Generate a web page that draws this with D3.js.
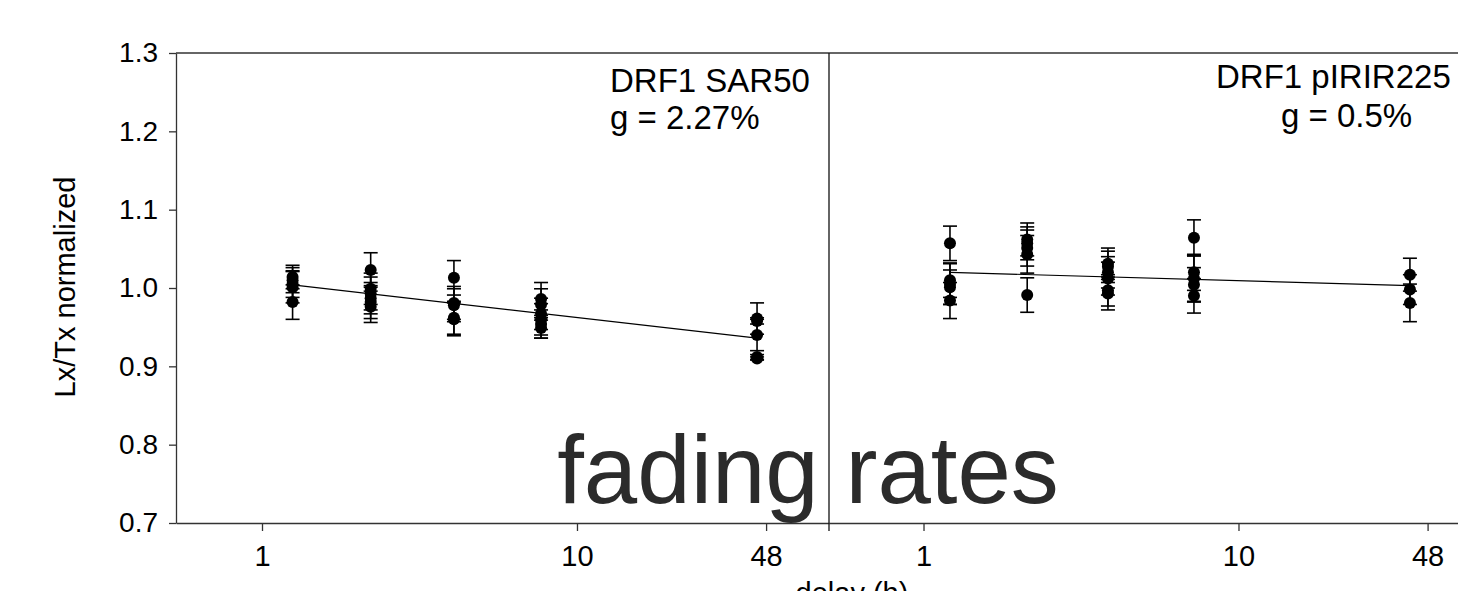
<!DOCTYPE html>
<html>
<head>
<meta charset="utf-8">
<script src="https://cdn.jsdelivr.net/npm/d3@7"></script>
<style>
  html, body { margin: 0; padding: 0; background: #fff; }
  svg { display: block; }
  text { font-family: "Liberation Sans", Arial, sans-serif; }
</style>
</head>
<body>
<svg id="chart" width="1458" height="591"></svg>
<script>
// ---------------- data ----------------
const panelTitles = ["DRF1 SAR50", "DRF1 pIRIR225"];
const panelG = ["g = 2.27%", "g = 0.5%"];
const yTickValues = [0.7, 0.8, 0.9, 1.0, 1.1, 1.2, 1.3];
const xTickValues = [1, 10, 48];
const xTickLabels = ["1", "10", "48"];
const yLabel = "Lx/Tx normalized";
const xLabel = "delay (h)";
const overlayText = "fading rates";

// DRF1 SAR50 (left panel): delay (h), normalized Lx/Tx, error
const sarTime  = [1.2, 1.2, 1.2, 1.2, 1.2,
                  2.02, 2.02, 2.02, 2.02, 2.02, 2.02,
                  3.75, 3.75, 3.75, 3.75, 3.75,
                  7.47, 7.47, 7.47, 7.47, 7.47, 7.47,
                  44.5, 44.5, 44.5, 44.5, 44.5];
const sarValue = [1.014, 1.010, 1.005, 1.001, 0.982,
                  1.023, 0.999, 0.993, 0.987, 0.982, 0.976,
                  1.013, 0.981, 0.978, 0.962, 0.960,
                  0.986, 0.979, 0.967, 0.960, 0.954, 0.949,
                  0.961, 0.958, 0.940, 0.912, 0.910];
const sarError = [0.015, 0.016, 0.017, 0.020, 0.022,
                  0.022, 0.020, 0.021, 0.020, 0.021, 0.020,
                  0.022, 0.021, 0.021, 0.021, 0.021,
                  0.021, 0.020, 0.020, 0.020, 0.018, 0.013,
                  0.020, 0.004, 0.020, 0.003, 0.002];
const sarFitTime = [1.2, 44.5];
const sarFitValue = [1.004, 0.936];

// DRF1 pIRIR225 (right panel)
const irTime  = [1.17, 1.17, 1.17, 1.17, 1.17,
                 1.95, 1.95, 1.95, 1.95, 1.95,
                 3.54, 3.54, 3.54, 3.54, 3.54, 3.54,
                 6.97, 6.97, 6.97, 6.97, 6.97,
                 41.4, 41.4, 41.4];
const irValue = [1.057, 1.010, 1.005, 1.001, 0.984,
                 1.062, 1.057, 1.051, 1.043, 0.991,
                 1.031, 1.027, 1.020, 1.012, 0.997, 0.993,
                 1.064, 1.020, 1.012, 1.004, 0.990,
                 1.017, 0.998, 0.981];
const irError = [0.022, 0.022, 0.026, 0.022, 0.023,
                 0.021, 0.021, 0.023, 0.024, 0.022,
                 0.020, 0.020, 0.020, 0.021, 0.020, 0.021,
                 0.023, 0.023, 0.029, 0.022, 0.022,
                 0.021, 0.019, 0.024];
const irFitTime = [1.17, 41.4];
const irFitValue = [1.020, 1.003];

// ---------------- drawing ----------------
const svg = d3.select("#chart");
const axisColor = "#333";
const timeShift = -0.32;   // axis is log of (delay + shift)
const FONT = "'Liberation Sans', Arial, sans-serif";

const y = d3.scaleLinear().domain([0.7, 1.3]).range([523, 53]);
const xL = d3.scaleLog().domain([0.3293, 81.04]).range([176, 829]);
const xR = d3.scaleLog().domain([0.3065, 81.38]).range([829, 1491]);

// top border
svg.append("line")
  .attr("x1", xL.range()[0]).attr("x2", xR.range()[1])
  .attr("y1", y(1.3)).attr("y2", y(1.3))
  .attr("stroke", axisColor).attr("stroke-width", 1.3);

// y axis
const yAxis = svg.append("g")
  .attr("transform", `translate(${xL.range()[0]},0)`)
  .call(d3.axisLeft(y).tickValues(yTickValues).tickFormat(d3.format(".1f"))
        .tickSize(7).tickSizeOuter(0).tickPadding(11));
yAxis.selectAll("path, line").attr("stroke", axisColor).attr("stroke-width", 1.3);
yAxis.selectAll("text").attr("font-size", 28).attr("fill", "#000").style("font-family", FONT);

// x axes
function drawXAxis(scale) {
  const g = svg.append("g")
    .attr("transform", `translate(0,${y(0.7)})`)
    .call(d3.axisBottom(scale)
      .tickValues(xTickValues.map(t => t + timeShift))
      .tickFormat((d, i) => xTickLabels[i])
      .tickSize(8).tickSizeOuter(0).tickPadding(14));
  g.selectAll("path, line").attr("stroke", axisColor).attr("stroke-width", 1.3);
  g.selectAll("text").attr("font-size", 29).attr("fill", "#000").style("font-family", FONT);
}
drawXAxis(xL);
drawXAxis(xR);

// overlay text
svg.append("text")
  .attr("x", 808).attr("y", 503)
  .attr("text-anchor", "middle")
  .attr("font-size", 96)
  .attr("fill", "#2b2b2b")
  .text(overlayText);

// panel divider
svg.append("line")
  .attr("x1", xL.range()[1]).attr("x2", xL.range()[1])
  .attr("y1", y(1.3)).attr("y2", y(0.7) + 8)
  .attr("stroke", "#111").attr("stroke-width", 1.3);

// axis titles
svg.append("text")
  .attr("transform", `translate(75,287) rotate(-90)`)
  .attr("text-anchor", "middle")
  .attr("font-size", 29)
  .attr("fill", "#000")
  .text(yLabel);
svg.append("text")
  .attr("x", 852).attr("y", 603)
  .attr("text-anchor", "middle")
  .attr("font-size", 29)
  .attr("fill", "#000")
  .text(xLabel);

// series drawing
function drawSeries(scale, times, values, errors, fitT, fitV) {
  const pts = times.map((t, i) => ({ t, v: values[i], e: errors[i] }));
  const g = svg.append("g");
  g.append("path")
    .datum(fitT.map((t, i) => ({ t, v: fitV[i] })))
    .attr("d", d3.line().x(d => scale(d.t + timeShift)).y(d => y(d.v)))
    .attr("stroke", "#000").attr("stroke-width", 1.2).attr("fill", "none");
  const eb = g.selectAll(".eb").data(pts).enter().append("g");
  eb.append("line")
    .attr("x1", d => scale(d.t + timeShift)).attr("x2", d => scale(d.t + timeShift))
    .attr("y1", d => y(d.v - d.e)).attr("y2", d => y(d.v + d.e))
    .attr("stroke", "#000").attr("stroke-width", 1.6);
  [1, -1].forEach(s => {
    eb.append("line")
      .attr("x1", d => scale(d.t + timeShift) - 7).attr("x2", d => scale(d.t + timeShift) + 7)
      .attr("y1", d => y(d.v + s * d.e)).attr("y2", d => y(d.v + s * d.e))
      .attr("stroke", "#000").attr("stroke-width", 1.6);
  });
  g.selectAll(".pt").data(pts).enter().append("circle")
    .attr("cx", d => scale(d.t + timeShift))
    .attr("cy", d => y(d.v))
    .attr("r", 6)
    .attr("fill", "#000");
}
drawSeries(xL, sarTime, sarValue, sarError, sarFitTime, sarFitValue);
drawSeries(xR, irTime, irValue, irError, irFitTime, irFitValue);

// panel labels
svg.append("text").attr("x", 610).attr("y", 92).attr("font-size", 33).attr("fill", "#000").text(panelTitles[0]);
svg.append("text").attr("x", 610).attr("y", 129).attr("font-size", 33).attr("fill", "#000").text(panelG[0]);
svg.append("text").attr("x", 1216).attr("y", 88).attr("font-size", 33).attr("fill", "#000").text(panelTitles[1]);
svg.append("text").attr("x", 1281).attr("y", 127).attr("font-size", 33).attr("fill", "#000").text(panelG[1]);
</script>
</body>
</html>
